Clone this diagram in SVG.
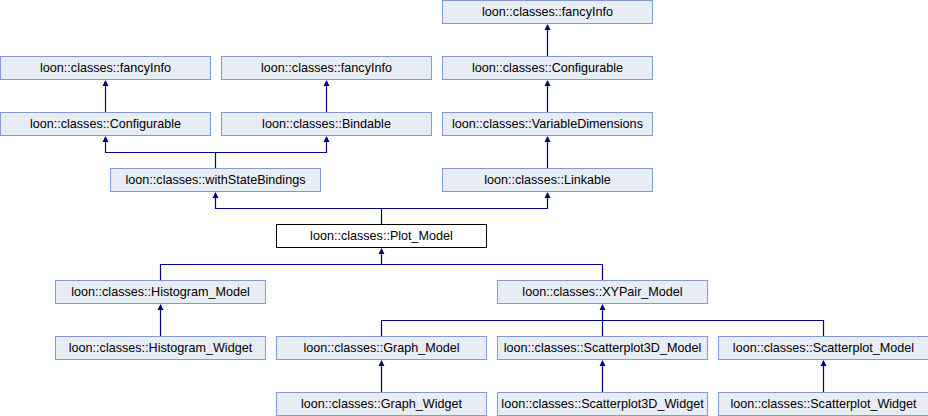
<svg xmlns="http://www.w3.org/2000/svg" width="928" height="416" viewBox="0 0 928 416">
<defs>
<style>
.n rect{fill:#E8ECF5;stroke:#7E9BD3;stroke-width:1}
.n.cur rect{fill:#FFFFFF;stroke:#000000}
.n text{font-family:"Liberation Sans",Arial,sans-serif;font-size:12.6px;fill:#000;text-anchor:middle}
.e path{fill:none;stroke:#000088;stroke-width:1.2}
.e polygon{fill:#000088;stroke:none}
</style>
</defs>
<rect width="928" height="416" fill="#fff"/>
<g id="n_fancyInfo3" class="n"><rect x="442.5" y="0.5" width="210" height="23"/><text x="547.5" y="16">loon::classes::fancyInfo</text></g>
<g id="n_fancyInfo1" class="n"><rect x="0.5" y="56.5" width="210" height="23"/><text x="105.5" y="72">loon::classes::fancyInfo</text></g>
<g id="n_fancyInfo2" class="n"><rect x="221.5" y="56.5" width="210" height="23"/><text x="326.5" y="72">loon::classes::fancyInfo</text></g>
<g id="n_Configurable2" class="n"><rect x="442.5" y="56.5" width="210" height="23"/><text x="547.5" y="72">loon::classes::Configurable</text></g>
<g id="n_Configurable1" class="n"><rect x="0.5" y="112.5" width="210" height="23"/><text x="105.5" y="128">loon::classes::Configurable</text></g>
<g id="n_Bindable" class="n"><rect x="221.5" y="112.5" width="210" height="23"/><text x="326.5" y="128">loon::classes::Bindable</text></g>
<g id="n_VariableDimensions" class="n"><rect x="442.5" y="112.5" width="210" height="23"/><text x="547.5" y="128">loon::classes::VariableDimensions</text></g>
<g id="n_withStateBindings" class="n"><rect x="110.5" y="168.5" width="210" height="23"/><text x="215.5" y="184">loon::classes::withStateBindings</text></g>
<g id="n_Linkable" class="n"><rect x="442.5" y="168.5" width="210" height="23"/><text x="547.5" y="184">loon::classes::Linkable</text></g>
<g id="n_Plot_Model" class="n cur"><rect x="276.5" y="224.5" width="210" height="23"/><text x="381.5" y="240">loon::classes::Plot_Model</text></g>
<g id="n_Histogram_Model" class="n"><rect x="55.5" y="280.5" width="210" height="23"/><text x="160.5" y="296">loon::classes::Histogram_Model</text></g>
<g id="n_XYPair_Model" class="n"><rect x="497.5" y="280.5" width="210" height="23"/><text x="602.5" y="296">loon::classes::XYPair_Model</text></g>
<g id="n_Histogram_Widget" class="n"><rect x="55.5" y="336.5" width="210" height="23"/><text x="160.5" y="352">loon::classes::Histogram_Widget</text></g>
<g id="n_Graph_Model" class="n"><rect x="276.5" y="336.5" width="210" height="23"/><text x="381.5" y="352">loon::classes::Graph_Model</text></g>
<g id="n_Scatterplot3D_Model" class="n"><rect x="497.5" y="336.5" width="210" height="23"/><text x="602.5" y="352">loon::classes::Scatterplot3D_Model</text></g>
<g id="n_Scatterplot_Model" class="n"><rect x="718.5" y="336.5" width="210" height="23"/><text x="823.5" y="352">loon::classes::Scatterplot_Model</text></g>
<g id="n_Graph_Widget" class="n"><rect x="276.5" y="392.5" width="210" height="23"/><text x="381.5" y="408">loon::classes::Graph_Widget</text></g>
<g id="n_Scatterplot3D_Widget" class="n"><rect x="497.5" y="392.5" width="210" height="23"/><text x="602.5" y="408">loon::classes::Scatterplot3D_Widget</text></g>
<g id="n_Scatterplot_Widget" class="n"><rect x="718.5" y="392.5" width="210" height="23"/><text x="823.5" y="408">loon::classes::Scatterplot_Widget</text></g>
<g id="connectors" class="e">
<path d="M547.5 56V25"/>
<path d="M105.5 112V81"/>
<path d="M326.5 112V81"/>
<path d="M547.5 112V81"/>
<path d="M547.5 168V137"/>
<path d="M215.5 168V152.5H105.5V137M215.5 152.5H326.5V137"/>
<path d="M381.5 224V208.5H215.5V193M381.5 208.5H547.5V193"/>
<path d="M160.5 280V264.5H602.5V280M381.5 264.5V249"/>
<path d="M381.5 336V320.5H823.5V336M602.5 320.5V305M602.5 320.5V336"/>
<path d="M160.5 336V305"/>
<path d="M381.5 392V361"/>
<path d="M602.5 392V361"/>
<path d="M823.5 392V361"/>
<polygon points="547.5,24 544.5,30 550.5,30"/>
<polygon points="105.5,80 102.5,86 108.5,86"/>
<polygon points="326.5,80 323.5,86 329.5,86"/>
<polygon points="547.5,80 544.5,86 550.5,86"/>
<polygon points="105.5,136 102.5,142 108.5,142"/>
<polygon points="326.5,136 323.5,142 329.5,142"/>
<polygon points="547.5,136 544.5,142 550.5,142"/>
<polygon points="215.5,192 212.5,198 218.5,198"/>
<polygon points="547.5,192 544.5,198 550.5,198"/>
<polygon points="381.5,248 378.5,254 384.5,254"/>
<polygon points="160.5,304 157.5,310 163.5,310"/>
<polygon points="602.5,304 599.5,310 605.5,310"/>
<polygon points="381.5,360 378.5,366 384.5,366"/>
<polygon points="602.5,360 599.5,366 605.5,366"/>
<polygon points="823.5,360 820.5,366 826.5,366"/>
</g>
</svg>
